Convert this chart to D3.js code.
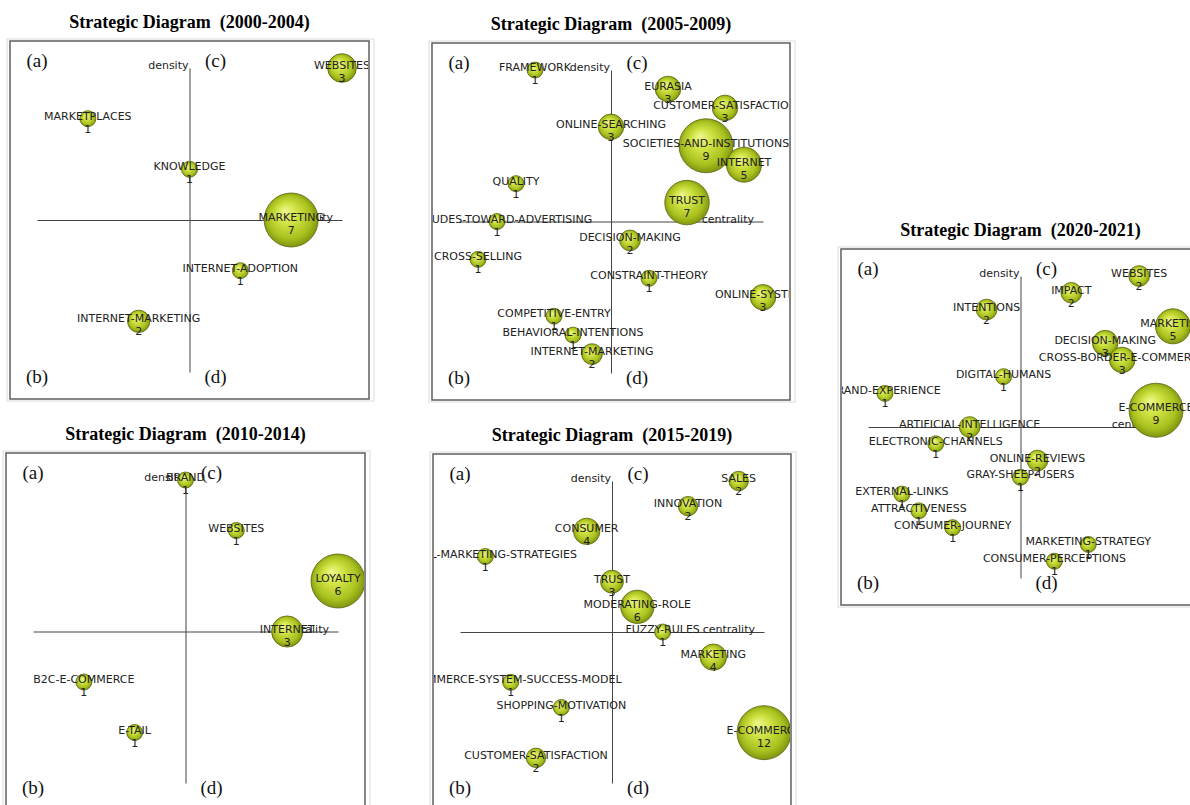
<!DOCTYPE html>
<html>
<head>
<meta charset="utf-8">
<script src="https://cdn.jsdelivr.net/npm/d3@7"></script>
<style>
  html, body { margin: 0; padding: 0; background: #fff; overflow: hidden; }
  svg { display: block; }
  .title { font-family: "Liberation Serif", "Times New Roman", serif; font-weight: bold; font-size: 18px; fill: #000; }
  .quad { font-family: "Liberation Serif", "Times New Roman", serif; font-size: 19px; fill: #111; }
  .lbl { font-family: "DejaVu Sans", Verdana, sans-serif; font-size: 11px; fill: #222; }
  .axis path { stroke: #444; stroke-width: 1; }
</style>
</head>
<body>
<svg id="chart" width="1190" height="805"></svg>
<script>
// ---- Themes per period: centrality rank, density rank, number of documents ----
const themes_2000_2004 = ["WEBSITES", "MARKETPLACES", "KNOWLEDGE", "MARKETING", "INTERNET-ADOPTION", "INTERNET-MARKETING"];
const centrality_2000_2004 = [6, 1, 3, 5, 4, 2];
const density_2000_2004 = [6, 5, 4, 3, 2, 1];
const documents_2000_2004 = [3, 1, 1, 7, 1, 2];

const themes_2005_2009 = ["FRAMEWORK", "EURASIA", "CUSTOMER-SATISFACTION", "ONLINE-SEARCHING",
  "SOCIETIES-AND-INSTITUTIONS", "INTERNET", "QUALITY", "TRUST", "ATTITUDES-TOWARD-ADVERTISING",
  "DECISION-MAKING", "CROSS-SELLING", "CONSTRAINT-THEORY", "ONLINE-SYSTEMS", "COMPETITIVE-ENTRY",
  "BEHAVIORAL-INTENTIONS", "INTERNET-MARKETING"];
const centrality_2005_2009 = [4, 11, 14, 8, 13, 15, 3, 12, 2, 9, 1, 10, 16, 5, 6, 7];
const density_2005_2009 = [16, 15, 14, 13, 12, 11, 10, 9, 8, 7, 6, 5, 4, 3, 2, 1];
const documents_2005_2009 = [1, 3, 3, 3, 9, 5, 1, 7, 1, 2, 1, 1, 3, 1, 1, 2];

const themes_2010_2014 = ["BRAND", "WEBSITES", "LOYALTY", "INTERNET", "B2C-E-COMMERCE", "E-TAIL"];
const centrality_2010_2014 = [3, 4, 6, 5, 1, 2];
const density_2010_2014 = [6, 5, 4, 3, 2, 1];
const documents_2010_2014 = [1, 1, 6, 3, 1, 1];

const themes_2015_2019 = ["SALES", "INNOVATION", "CONSUMER", "DIGITAL-MARKETING-STRATEGIES", "TRUST",
  "MODERATING-ROLE", "FUZZY-RULES", "MARKETING", "E-COMMERCE-SYSTEM-SUCCESS-MODEL",
  "SHOPPING-MOTIVATION", "E-COMMERCE", "CUSTOMER-SATISFACTION"];
const centrality_2015_2019 = [11, 9, 5, 1, 6, 7, 8, 10, 2, 4, 12, 3];
const density_2015_2019 = [12, 11, 10, 9, 8, 7, 6, 5, 4, 3, 2, 1];
const documents_2015_2019 = [2, 2, 4, 1, 3, 6, 1, 4, 1, 1, 12, 2];

const themes_2020_2021 = ["WEBSITES", "IMPACT", "INTENTIONS", "MARKETING", "DECISION-MAKING",
  "CROSS-BORDER-E-COMMERCE", "DIGITAL-HUMANS", "BRAND-EXPERIENCE", "E-COMMERCE",
  "ARTIFICIAL-INTELLIGENCE", "ELECTRONIC-CHANNELS", "ONLINE-REVIEWS", "GRAY-SHEEP-USERS",
  "EXTERNAL-LINKS", "ATTRACTIVENESS", "CONSUMER-JOURNEY", "MARKETING-STRATEGY", "CONSUMER-PERCEPTIONS"];
const centrality_2020_2021 = [16, 12, 7, 18, 14, 15, 8, 1, 17, 6, 4, 10, 9, 2, 3, 5, 13, 11];
const density_2020_2021 = [18, 17, 16, 15, 14, 13, 12, 11, 10, 9, 8, 7, 6, 5, 4, 3, 2, 1];
const documents_2020_2021 = [2, 2, 2, 5, 3, 3, 1, 1, 9, 2, 1, 2, 1, 1, 1, 1, 1, 1];

const periodTitles = ["Strategic Diagram  (2000-2004)", "Strategic Diagram  (2005-2009)",
  "Strategic Diagram  (2010-2014)", "Strategic Diagram  (2015-2019)", "Strategic Diagram  (2020-2021)"];
const quadrantNames = ["(a)", "(b)", "(c)", "(d)"];

// ---- Layout of the five diagrams (plot area where the two axes run) ----
const panels = [
  { title: periodTitles[0], themes: themes_2000_2004, c: centrality_2000_2004, d: density_2000_2004, n: documents_2000_2004, x: 37, y: 68, w: 305, h: 304 },
  { title: periodTitles[1], themes: themes_2005_2009, c: centrality_2005_2009, d: density_2005_2009, n: documents_2005_2009, x: 459, y: 70, w: 304, h: 303 },
  { title: periodTitles[2], themes: themes_2010_2014, c: centrality_2010_2014, d: density_2010_2014, n: documents_2010_2014, x: 33, y: 480, w: 305, h: 303 },
  { title: periodTitles[3], themes: themes_2015_2019, c: centrality_2015_2019, d: density_2015_2019, n: documents_2015_2019, x: 460, y: 481, w: 304, h: 302 },
  { title: periodTitles[4], themes: themes_2020_2021, c: centrality_2020_2021, d: density_2020_2021, n: documents_2020_2021, x: 868, y: 276, w: 305, h: 302 }
];
const pad = 27;

const svg = d3.select("#chart");
const defs = svg.append("defs");

const grad = defs.append("radialGradient")
  .attr("id", "bubbleFill")
  .attr("cx", "50%").attr("cy", "50%").attr("r", "55%")
  .attr("fx", "38%").attr("fy", "32%");
grad.append("stop").attr("offset", "0%").attr("stop-color", "#eef78c");
grad.append("stop").attr("offset", "35%").attr("stop-color", "#d0e244");
grad.append("stop").attr("offset", "72%").attr("stop-color", "#a9c11e");
grad.append("stop").attr("offset", "100%").attr("stop-color", "#76860c");

panels.forEach((p, i) => {
  const count = p.themes.length;
  const rows = p.themes.map((t, k) => ({ name: t, c: p.c[k], d: p.d[k], docs: p.n[k] }));

  const x = d3.scaleLinear().domain([0, count]).range([0, p.w]);
  const y = d3.scaleLinear().domain([0, count]).range([p.h, 0]);
  const r = d3.scaleLinear().domain([1, d3.max(p.n)]).range([8, 27]);

  const g = svg.append("g").attr("transform", `translate(${p.x},${p.y})`);

  // title
  g.append("text").attr("class", "title")
    .attr("x", x(count / 2)).attr("y", -40)
    .attr("text-anchor", "middle")
    .style("white-space", "pre")
    .text(p.title);

  // frame
  g.append("rect")
    .attr("x", -pad - 3).attr("y", -pad - 2)
    .attr("width", p.w + 2 * pad + 8).attr("height", p.h + 2 * pad + 4)
    .attr("fill", "none").attr("stroke", "#dcdcdc").attr("stroke-width", 1);
  g.append("rect")
    .attr("x", -pad).attr("y", -pad)
    .attr("width", p.w + 2 * pad).attr("height", p.h + 2 * pad)
    .attr("fill", "#fff").attr("stroke", "#5f5f5f").attr("stroke-width", 1.5);

  const clipId = "clip" + i;
  defs.append("clipPath").attr("id", clipId)
    .append("rect")
    .attr("x", -pad + 1).attr("y", -pad + 1)
    .attr("width", p.w + 2 * pad - 2).attr("height", p.h + 2 * pad - 2);

  const body = g.append("g").attr("clip-path", `url(#${clipId})`);

  // quadrant letters
  const qPos = [
    [x(0), -1],
    [x(0), p.h + 11],
    [x(count / 2) + 26, -1],
    [x(count / 2) + 26, p.h + 11]
  ];
  quadrantNames.forEach((q, k) => {
    body.append("text").attr("class", "quad")
      .attr("x", qPos[k][0]).attr("y", qPos[k][1])
      .attr("text-anchor", "middle")
      .text(q);
  });

  // axes crossing at the median rank
  body.append("g").attr("class", "axis")
    .attr("transform", `translate(0,${y(count / 2)})`)
    .call(d3.axisBottom(x).tickValues([]).tickSizeOuter(0));
  body.append("g").attr("class", "axis")
    .attr("transform", `translate(${x(count / 2)},0)`)
    .call(d3.axisLeft(y).tickValues([]).tickSizeOuter(0));

  body.append("text").attr("class", "lbl")
    .attr("x", x(count / 2) - 1).attr("y", y(count) + 1)
    .attr("text-anchor", "end")
    .text("density");
  body.append("text").attr("class", "lbl")
    .attr("x", x(count) - 9).attr("y", y(count / 2) + 1)
    .attr("text-anchor", "end")
    .text("centrality");

  // theme spheres
  body.selectAll("circle.theme").data(rows).join("circle")
    .attr("class", "theme")
    .attr("cx", dd => x(dd.c)).attr("cy", dd => y(dd.d))
    .attr("r", dd => r(dd.docs))
    .attr("fill", "url(#bubbleFill)")
    .attr("stroke", "#5a660c").attr("stroke-width", 0.8);

  // theme names and document counts
  body.selectAll("text.name").data(rows).join("text")
    .attr("class", "lbl name")
    .attr("x", dd => x(dd.c)).attr("y", dd => y(dd.d) + 1)
    .attr("text-anchor", "middle")
    .text(dd => dd.name);
  body.selectAll("text.count").data(rows).join("text")
    .attr("class", "lbl count")
    .attr("x", dd => x(dd.c)).attr("y", dd => y(dd.d) + 14)
    .attr("text-anchor", "middle")
    .text(dd => dd.docs);
});
</script>
</body>
</html>
